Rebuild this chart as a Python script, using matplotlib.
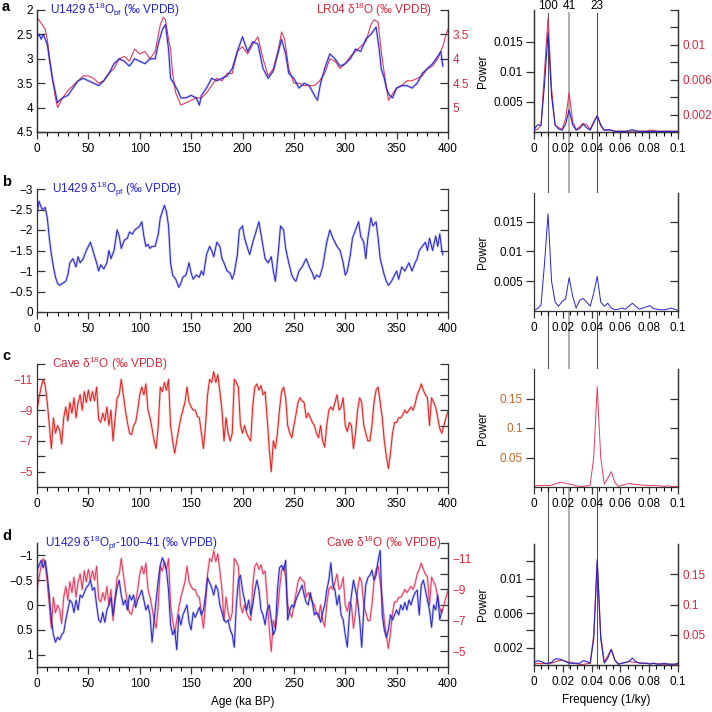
import numpy as np
import matplotlib
matplotlib.use("Agg")
from matplotlib import pyplot as plt
from matplotlib.ticker import MultipleLocator, FixedLocator, FuncFormatter
from matplotlib.lines import Line2D
from matplotlib.transforms import blended_transform_factory

plt.rcParams['font.family'] = ['Liberation Sans', 'DejaVu Sans']
plt.rcParams['mathtext.fontset'] = 'custom'
plt.rcParams['mathtext.rm'] = 'Liberation Sans'
plt.rcParams['mathtext.it'] = 'Liberation Sans:italic'
plt.rcParams['font.size'] = 8.5

# ---- data ----
# panel a: U1429 benthic d18O (left axis)
age_bf = [0, 2, 4, 6, 8, 10, 12, 15, 18, 20,
          22, 25, 30, 35, 40, 45, 50, 55, 60, 65,
          70, 75, 80, 85, 90, 95, 100, 105, 110, 115,
          118, 122, 125, 128, 130, 133, 137, 140, 145, 150,
          155, 158, 160, 165, 170, 175, 180, 185, 190, 195,
          200, 205, 210, 215, 220, 225, 230, 235, 238, 242,
          245, 250, 255, 260, 265, 270, 273, 276, 280, 285,
          290, 295, 300, 305, 310, 315, 320, 325, 330, 333,
          335, 338, 340, 343, 346, 350, 355, 360, 365, 370,
          375, 380, 385, 390, 393, 395]
d18o_bf = [2.55, 2.5, 2.6, 2.5, 2.6, 2.7, 3.0, 3.4, 3.7, 3.9,
           3.85, 3.8, 3.75, 3.6, 3.45, 3.4, 3.45, 3.5, 3.55, 3.45,
           3.3, 3.1, 3.0, 3.05, 3.15, 3.0, 3.05, 3.1, 3.0, 3.0,
           2.7, 2.4, 2.3, 2.8, 3.4, 3.5, 3.65, 3.8, 3.8, 3.75,
           3.8, 3.95, 3.75, 3.6, 3.4, 3.45, 3.4, 3.35, 3.2, 2.85,
           2.55, 2.85, 2.65, 2.7, 3.2, 3.4, 3.25, 2.85, 2.6, 2.9,
           3.3, 3.4, 3.6, 3.5, 3.55, 3.75, 3.85, 3.5, 3.2, 2.9,
           3.0, 3.15, 3.1, 3.0, 2.8, 2.85, 2.6, 2.5, 2.35, 2.8,
           3.2, 3.4, 3.6, 3.75, 3.8, 3.6, 3.55, 3.55, 3.6, 3.5,
           3.3, 3.2, 3.1, 2.95, 2.85, 3.15]

# panel a: LR04 stack (right axis)
age_lr04 = [0, 5, 8, 10, 12, 15, 18, 20, 25, 30,
            35, 40, 45, 50, 55, 60, 65, 70, 75, 80,
            85, 90, 95, 100, 105, 110, 115, 120, 123, 125,
            128, 130, 132, 135, 140, 145, 150, 155, 160, 165,
            170, 175, 180, 185, 190, 195, 200, 205, 210, 215,
            220, 225, 230, 235, 238, 241, 245, 250, 255, 260,
            265, 270, 275, 280, 285, 290, 295, 300, 305, 310,
            315, 320, 325, 328, 332, 335, 338, 342, 345, 350,
            355, 360, 365, 370, 375, 380, 385, 390, 395, 398,
            400]
d18o_lr04 = [3.15, 3.3, 3.4, 3.6, 3.95, 4.4, 4.8, 5.0, 4.8, 4.65,
             4.55, 4.45, 4.35, 4.35, 4.4, 4.5, 4.45, 4.3, 4.2, 4.0,
             3.95, 4.05, 3.8, 3.9, 3.85, 4.0, 3.85, 3.3, 3.15, 3.2,
             3.6, 3.8, 4.3, 4.7, 4.95, 4.9, 4.85, 4.8, 4.8, 4.7,
             4.55, 4.4, 4.45, 4.3, 4.3, 3.85, 3.75, 3.9, 3.7, 3.55,
             4.0, 4.35, 4.2, 3.8, 3.45, 3.6, 4.2, 4.5, 4.5, 4.55,
             4.55, 4.55, 4.45, 4.3, 4.0, 4.05, 4.2, 4.1, 3.95, 3.85,
             3.75, 3.65, 3.3, 3.2, 3.25, 3.85, 4.3, 4.85, 4.75, 4.6,
             4.55, 4.45, 4.45, 4.4, 4.35, 4.2, 4.15, 4.0, 3.75, 3.5,
             3.4]

# panel b: U1429 planktic d18O
age_pf = [0, 2, 5, 8, 10, 12, 14, 16, 18, 20,
          22, 25, 28, 30, 32, 35, 38, 40, 42, 45,
          48, 50, 52, 55, 58, 60, 62, 65, 68, 70,
          72, 75, 78, 80, 82, 85, 88, 90, 93, 95,
          98, 100, 102, 104, 106, 108, 110, 112, 115, 118,
          120, 122, 124, 126, 128, 130, 132, 135, 138, 140,
          142, 145, 148, 150, 152, 155, 158, 160, 162, 165,
          168, 170, 172, 175, 178, 180, 182, 185, 188, 190,
          192, 195, 197, 200, 202, 205, 207, 210, 213, 216,
          218, 220, 222, 225, 228, 230, 232, 235, 237, 240,
          242, 245, 248, 250, 252, 255, 258, 260, 262, 265,
          268, 270, 272, 275, 278, 280, 282, 285, 288, 290,
          292, 295, 298, 300, 302, 305, 307, 310, 313, 315,
          318, 320, 322, 325, 327, 330, 332, 334, 336, 338,
          340, 342, 345, 348, 350, 352, 355, 358, 360, 362,
          365, 368, 370, 372, 375, 378, 380, 382, 385, 388,
          390, 392, 394, 395]
d18o_pf = [-2.4, -2.7, -2.5, -2.55, -2.3, -1.8, -1.4, -1.1, -0.85, -0.7,
           -0.65, -0.7, -0.75, -0.9, -1.2, -1.3, -1.1, -1.35, -1.2, -1.3,
           -1.5, -1.6, -1.7, -1.45, -1.2, -1.0, -1.15, -1.05, -1.2, -1.5,
           -1.3, -1.5, -2.0, -1.85, -1.55, -1.75, -1.8, -1.95, -1.9, -2.0,
           -2.05, -2.1, -2.2, -1.85, -1.6, -1.65, -1.55, -1.6, -1.6, -1.9,
           -2.3, -2.45, -2.6, -2.45, -2.1, -1.2, -0.9, -0.8, -0.6, -0.7,
           -0.85, -0.9, -1.2, -0.95, -0.8, -0.9, -0.85, -1.0, -0.9, -1.4,
           -1.6, -1.5, -1.35, -1.7, -1.6, -1.3, -1.2, -1.0, -0.95, -0.8,
           -0.95, -1.4, -2.0, -2.1, -1.8, -1.55, -1.4, -1.7, -1.95, -2.2,
           -1.9, -1.6, -1.3, -1.2, -1.35, -1.0, -0.75, -1.5, -2.1, -2.0,
           -1.55, -1.2, -0.9, -0.8, -0.75, -1.0, -1.1, -1.2, -1.3, -1.1,
           -0.95, -0.8, -0.9, -0.85, -1.1, -1.4, -1.7, -2.0, -1.8, -1.7,
           -1.6, -1.5, -1.2, -0.9, -1.0, -1.4, -1.8, -2.0, -2.2, -1.85,
           -1.7, -1.3, -1.8, -2.3, -2.1, -2.2, -1.8, -1.3, -1.1, -0.9,
           -0.75, -0.65, -0.75, -0.9, -1.0, -0.8, -1.1, -1.0, -1.1, -1.2,
           -1.0, -1.2, -1.3, -1.5, -1.6, -1.7, -1.5, -1.8, -1.5, -1.85,
           -1.6, -1.9, -1.5, -1.4]

# panels c, d: cave speleothem d18O, 2 ky steps from 0 to 400 ka
age_cave = np.arange(0, 401, 2)
d18o_cave = [-9.0, -9.8, -10.5, -11.0, -10.6, -9.5, -8.0, -6.5, -8.5, -7.5,
             -8.0, -7.7, -6.8, -8.5, -9.2, -8.3, -9.5, -8.8, -9.8, -8.5,
             -9.5, -10.0, -9.0, -10.2, -9.5, -10.3, -9.6, -10.2, -9.6, -10.5,
             -8.4, -8.2, -8.8, -8.3, -9.2, -8.0, -9.0, -7.0, -8.5, -9.8,
             -10.0, -11.0, -10.0, -9.0, -8.2, -7.5, -7.4, -8.0, -8.2, -9.0,
             -10.0, -10.5, -10.0, -10.7, -9.0, -8.5, -7.8, -7.0, -6.5, -8.0,
             -10.5, -10.2, -10.8, -10.3, -11.0, -8.0, -7.0, -6.2, -7.0, -7.8,
             -8.5, -9.0, -9.5, -10.5, -9.5, -9.2, -9.0, -9.0, -8.6, -8.5,
             -7.5, -6.5, -8.0, -10.0, -11.0, -10.8, -11.5, -10.8, -11.3, -10.2,
             -9.0, -7.0, -8.5, -7.5, -7.0, -7.5, -11.0, -10.8, -10.5, -8.0,
             -7.5, -8.0, -7.5, -7.2, -7.0, -9.3, -10.5, -10.7, -10.3, -10.6,
             -10.0, -10.2, -8.5, -6.5, -5.0, -7.0, -6.5, -7.5, -9.0, -10.2,
             -10.5, -9.8, -8.0, -7.5, -7.2, -8.0, -8.7, -9.5, -9.8, -9.6,
             -9.5, -8.5, -8.8, -8.5, -8.2, -8.0, -7.5, -7.2, -8.0, -7.0,
             -6.6, -8.0, -9.0, -9.2, -9.0, -9.5, -10.0, -9.0, -9.2, -9.8,
             -8.0, -7.6, -8.2, -8.0, -6.5, -7.5, -9.0, -9.8, -9.5, -8.0,
             -7.5, -7.0, -7.0, -8.0, -9.5, -10.3, -10.5, -9.5, -8.5, -7.0,
             -6.0, -5.2, -6.2, -7.5, -8.2, -8.2, -8.5, -8.5, -8.7, -9.0,
             -8.8, -9.0, -9.2, -9.0, -9.4, -10.0, -10.3, -10.7, -10.3, -10.0,
             -9.8, -8.0, -9.8, -9.5, -9.2, -8.5, -7.8, -7.5, -8.0, -8.5,
             -8.9]

# panel d: U1429 planktic d18O with 100 and 41 ky bands removed, 2 ky steps
age_filt = np.arange(0, 395, 2)
d18o_filt = [-0.7, -0.8, -0.9, -0.75, -0.9, -0.6, -0.2, 0.3, 0.6, 0.75,
             0.65, 0.7, 0.6, 0.55, 0.3, 0.1, -0.1, -0.05, 0.15, -0.1,
             0.1, -0.2, -0.15, -0.25, -0.35, -0.4, -0.5, -0.3, -0.35, 0.0,
             0.3, 0.35, 0.15, 0.35, 0.1, 0.0, -0.15, 0.2, -0.1, -0.35,
             -0.5, -0.2, 0.0, -0.1, 0.1, -0.2, -0.1, -0.2, 0.05, -0.1,
             -0.2, -0.3, -0.1, 0.1, 0.0, 0.2, 0.75, 0.3, -0.1, -0.5,
             -0.8, -0.95, -0.85, -0.7, -0.3, 0.4, 0.6, 0.5, 0.9, 0.2,
             0.4, 0.2, 0.1, 0.0, 0.35, 0.5, 0.15, 0.25, 0.15, 0.05,
             0.2, 0.1, -0.2, -0.55, -0.45, -0.35, -0.2, -0.4, -0.3, 0.0,
             0.15, 0.3, 0.35, 0.3, 0.5, 0.6, 0.85, 0.0, -0.5, -0.6,
             -0.3, -0.1, 0.1, -0.1, 0.2, 0.0, -0.3, -0.5, -0.3, 0.1,
             0.2, 0.4, 0.1, 0.0, 0.3, 0.6, 0.5, -0.3, -0.75, -0.8,
             -0.7, -0.9, 0.3, 0.1, 0.0, 0.05, -0.1, -0.2, -0.3, -0.4,
             -0.2, -0.05, 0.0, -0.25, -0.05, 0.2, 0.15, 0.2, 0.35, 0.15,
             0.0, -0.3, -0.5, -0.85, -0.4, -0.3, 0.0, -0.2, 0.2, 0.3,
             0.6, 0.85, 0.2, -0.2, -0.5, -0.3, -0.1, 0.3, 0.85, 0.1,
             -0.4, -0.55, -0.6, -0.7, -0.5, -0.6, -0.9, -1.1, 0.2, 0.5,
             0.65, 0.5, 0.2, 0.3, 0.2, 0.1, 0.2, 0.0, 0.1, -0.05,
             0.1, -0.1, 0.0, -0.15, -0.25, -0.3, 0.2, -0.4, -0.5, -0.3,
             -0.1, 0.1, 0.45, 0.0, 0.1, -0.2, 0.3, 0.1]

# power spectra, frequency grid of 1/410 ky steps
freq = np.arange(42) / 410.0
spec_bf = [0.0004, 0.0012, 0.0011, 0.008, 0.0165, 0.006, 0.0012, 0.0005, 0.0003, 0.0013,
           0.0037, 0.0012, 0.0003, 0.0006, 0.0013, 0.0007, 0.0003, 0.0015, 0.0027, 0.0012,
           0.0003, 0.0004, 0.0003, 0.0001, 0.0001, 0.0001, 0.0001, 0.0002, 0.0004, 0.0002,
           0.0001, 0.0001, 0.0001, 0.0001, 0.0001, 0.0001, 0.0001, 0.0001, 0.0001, 0.0001,
           0.0001, 0.0001]
spec_lr04 = [0.0002, 0.0003, 0.0008, 0.007, 0.0131, 0.005, 0.0008, 0.0005, 0.0003, 0.0015,
             0.0045, 0.0012, 0.0003, 0.0006, 0.001, 0.0008, 0.0003, 0.0012, 0.0019, 0.0007,
             0.0002, 0.0002, 0.0002, 0.0001, 0.0001, 0.0001, 0.0001, 0.0001, 0.0001, 0.0001,
             0.0001, 0.0001, 0.0001, 0.0002, 0.0002, 0.0001, 0.0001, 0.0001, 0.0001, 0.0001,
             0.0001, 0.0001]
spec_pf = [0.0001, 0.0004, 0.001, 0.008, 0.0163, 0.005, 0.0015, 0.0008, 0.0016, 0.002,
           0.0056, 0.0025, 0.0005, 0.0018, 0.0021, 0.0015, 0.0008, 0.003, 0.0058, 0.0015,
           0.0008, 0.0013, 0.0005, 0.0002, 0.0003, 0.0005, 0.0003, 0.0008, 0.0013, 0.0008,
           0.0003, 0.0005, 0.0007, 0.0009, 0.0004, 0.0003, 0.0002, 0.0002, 0.0003, 0.0005,
           0.0003, 0.0001]
spec_cave = [0.001, 0.003, 0.002, 0.003, 0.002, 0.003, 0.005, 0.007, 0.008, 0.006,
             0.005, 0.004, 0.002, 0.001, 0.001, 0.002, 0.003, 0.05, 0.17, 0.05,
             0.005, 0.015, 0.026, 0.008, 0.001, 0.003, 0.004, 0.006, 0.005, 0.004,
             0.004, 0.003, 0.003, 0.002, 0.003, 0.002, 0.002, 0.001, 0.002, 0.001,
             0.001, 0.001]
spec_filt = [0.0003, 0.0005, 0.0004, 0.0002, 0.0002, 0.0003, 0.0007, 0.0007, 0.0006, 0.0004,
             0.0002, 0.0002, 0.0002, 0.0002, 0.0005, 0.0004, 0.0002, 0.003, 0.0122, 0.003,
             0.0002, 0.0008, 0.0018, 0.0006, 0.0001, 0.0002, 0.0003, 0.0004, 0.0008, 0.0004,
             0.0002, 0.0002, 0.0002, 0.0001, 0.0002, 0.0001, 0.0001, 0.0002, 0.0001, 0.0001,
             0.0001, 0.0002]

periods = [100, 41, 23]

BLUE = '#2424c8'
PINK = '#e23a5c'
RED = '#e0201e'
AXRED = '#d42a3c'
ORANGE = '#c8682a'
SPINE = '#333333'
FS = 8.5

gfmt = FuncFormatter(lambda v, p: ('%g' % v).replace('-', '\u2212'))


def style(ax):
    ax.spines['top'].set_visible(False)
    for s in ['left', 'right', 'bottom']:
        ax.spines[s].set_color(SPINE)
        ax.spines[s].set_linewidth(0.9)
    ax.tick_params(colors=SPINE, labelcolor='black', width=0.9, labelsize=FS)


def trace(ax, x, y, color, **kw):
    # faint wide copy under a thin line, like the raw/smoothed look of the original
    ax.plot(x, y, color=color, lw=1.8, alpha=0.25, solid_joinstyle='round', **kw)
    ax.plot(x, y, color=color, lw=0.7, **kw)


def ts_axes(rect):
    ax = fig.add_axes(rect)
    style(ax)
    ax.set_xlim(0, 400)
    ax.xaxis.set_major_locator(MultipleLocator(50))
    ax.xaxis.set_minor_locator(MultipleLocator(10))
    ax.tick_params(axis='x', which='major', direction='out', length=5, pad=3)
    ax.tick_params(axis='x', which='minor', direction='out', length=3, width=0.8)
    ax.tick_params(axis='y', which='both', direction='in', length=6, pad=3)
    ax.yaxis.set_major_formatter(gfmt)
    return ax


def spec_axes(rect):
    ax = fig.add_axes(rect)
    style(ax)
    ax.set_xlim(0, 0.1)
    ax.xaxis.set_major_locator(MultipleLocator(0.02))
    ax.xaxis.set_minor_locator(MultipleLocator(0.005))
    ax.xaxis.set_major_formatter(gfmt)
    ax.yaxis.set_major_formatter(gfmt)
    ax.tick_params(axis='x', which='major', direction='out', length=5, pad=3)
    ax.tick_params(axis='x', which='minor', direction='out', length=3, width=0.8)
    ax.tick_params(axis='y', which='both', direction='out', length=6, pad=2)
    ax.set_ylabel('Power', fontsize=FS)
    ax.yaxis.set_label_coords(-0.31, 0.5)
    return ax


def label_ticks(ax, axis_ticks, shown):
    ax.yaxis.set_major_locator(FixedLocator(axis_ticks))
    ax.yaxis.set_major_formatter(FuncFormatter(
        lambda v, p: ('%g' % v).replace('-', '\u2212') if any(abs(v - s) < 1e-9 for s in shown) else ''))


fig = plt.figure(figsize=(7.12, 7.12), dpi=100)

PX = 1 / 712.0
lx, lw = 37 * PX, 411 * PX
sx, sw = 534 * PX, 144 * PX

# ---------- panel a ----------
axa = ts_axes([lx, 1 - 132 * PX, lw, 122 * PX])
trace(axa, age_bf, d18o_bf, BLUE, zorder=3)
axa.set_ylim(4.5, 2)
axa.yaxis.set_major_locator(MultipleLocator(0.5))
axa2 = axa.twinx()
style(axa2)
axa2.plot(age_lr04, d18o_lr04, color=PINK, lw=0.8, zorder=2)
axa2.set_ylim(5.5, 3)
label_ticks(axa2, [3, 3.5, 4, 4.5, 5], [3.5, 4, 4.5, 5])
axa2.tick_params(axis='y', direction='in', length=6, labelcolor=AXRED)
axa.set_zorder(axa2.get_zorder() + 1)
axa.patch.set_visible(False)
axa.text(0.032, 1.0, r'U1429 δ$^{18}$O$_{\mathrm{bf}}$ (‰ VPDB)', color=BLUE,
         transform=axa.transAxes, va='center', ha='left', fontsize=FS)
axa.text(0.962, 1.0, r'LR04 δ$^{18}$O (‰ VPDB)', color=AXRED,
         transform=axa.transAxes, va='center', ha='right', fontsize=FS)

# ---------- panel b ----------
axb = ts_axes([lx, 1 - 312 * PX, lw, 123 * PX])
trace(axb, age_pf, d18o_pf, BLUE)
axb.set_ylim(0, -3)
axb.yaxis.set_major_locator(MultipleLocator(0.5))
axb.tick_params(axis='y', right=True, direction='in', length=6)
axb.text(0.036, 1.0, r'U1429 δ$^{18}$O$_{\mathrm{pf}}$ (‰ VPDB)', color=BLUE,
         transform=axb.transAxes, va='center', ha='left', fontsize=FS)

# ---------- panel c ----------
axc = ts_axes([lx, 1 - 487 * PX, lw, 123 * PX])
trace(axc, age_cave, d18o_cave, RED)
axc.set_ylim(-4, -12)
label_ticks(axc, list(range(-12, -4)), [-11, -9, -7, -5])
axc.tick_params(axis='y', right=True, direction='in', length=6, labelcolor=AXRED)
axc.text(0.036, 1.0, r'Cave δ$^{18}$O (‰ VPDB)', color=AXRED,
         transform=axc.transAxes, va='center', ha='left', fontsize=FS)

# ---------- panel d ----------
axd = ts_axes([lx, 1 - 667 * PX, lw, 124 * PX])
trace(axd, age_filt, d18o_filt, BLUE, zorder=2)
axd.set_ylim(1.25, -1.25)
axd.yaxis.set_major_locator(FixedLocator([-1, -0.5, 0, 0.5, 1]))
axd2 = axd.twinx()
style(axd2)
trace(axd2, age_cave, d18o_cave, PINK)
axd2.set_ylim(-4, -12)
label_ticks(axd2, list(range(-12, -4)), [-11, -9, -7, -5])
axd2.tick_params(axis='y', direction='in', length=6, labelcolor=AXRED)
axd.set_zorder(axd2.get_zorder() + 1)
axd.patch.set_visible(False)
axd.set_xlabel('Age (ka BP)', fontsize=FS, labelpad=4)
axd.text(0.02, 1.0, r'U1429 δ$^{18}$O$_{\mathrm{pf}}$-100–41 (‰ VPDB)', color=BLUE,
         transform=axd.transAxes, va='center', ha='left', fontsize=FS)
axd.text(0.985, 1.0, r'Cave δ$^{18}$O (‰ VPDB)', color=AXRED,
         transform=axd.transAxes, va='center', ha='right', fontsize=FS)

# ---------- spectra ----------
sa = spec_axes([sx, 1 - 132 * PX, sw, 122 * PX])
sa.plot(freq, spec_bf, color=BLUE, lw=0.8, zorder=3)
sa.set_ylim(0, 0.0203)
sa.yaxis.set_major_locator(FixedLocator([0.005, 0.01, 0.015]))
sa2 = sa.twinx()
style(sa2)
sa2.plot(freq, spec_lr04, color=PINK, lw=0.8)
sa2.set_ylim(0, 0.014)
label_ticks(sa2, [0.002, 0.004, 0.006, 0.008, 0.01, 0.012, 0.014], [0.002, 0.006, 0.01])
sa2.tick_params(axis='y', direction='in', length=6, labelcolor=AXRED)
sa.set_zorder(sa2.get_zorder() + 1)
sa.patch.set_visible(False)

sb = spec_axes([sx, 1 - 311 * PX, sw, 118 * PX])
sb.plot(freq, spec_pf, color=BLUE, lw=0.7)
sb.set_ylim(0, 0.0198)
sb.yaxis.set_major_locator(FixedLocator([0.005, 0.01, 0.015]))

sc = spec_axes([sx, 1 - 487 * PX, sw, 118 * PX])
sc.plot(freq, spec_cave, color=PINK, lw=0.7)
sc.set_ylim(0, 0.2)
sc.yaxis.set_major_locator(FixedLocator([0.05, 0.1, 0.15]))
sc.tick_params(axis='y', labelcolor=ORANGE)

sd = spec_axes([sx, 1 - 665 * PX, sw, 121 * PX])
sd.plot(freq, spec_filt, color=BLUE, lw=0.8, zorder=3)
sd.set_ylim(0, 0.014)
label_ticks(sd, [0.002, 0.004, 0.006, 0.008, 0.01, 0.012], [0.002, 0.006, 0.01])
sd2 = sd.twinx()
style(sd2)
sd2.plot(freq, spec_cave, color=PINK, lw=0.8)
sd2.set_ylim(0, 0.2)
sd2.yaxis.set_major_locator(FixedLocator([0.05, 0.1, 0.15]))
sd2.yaxis.set_major_formatter(gfmt)
sd2.tick_params(axis='y', direction='in', length=6, labelcolor=AXRED)
sd.set_zorder(sd2.get_zorder() + 1)
sd.patch.set_visible(False)
sd.set_xlabel('Frequency (1/ky)', fontsize=FS, labelpad=4)

# right-side inward ticks for single spectra panels (b, c)
for ax in (sb, sc):
    r = ax.secondary_yaxis('right')
    r.set_yticks(ax.get_yticks())
    r.tick_params(direction='in', length=6, labelright=False, colors=SPINE, width=0.9)
    r.spines['right'].set_color(SPINE)
    r.spines['right'].set_linewidth(0.9)

# orbital period lines across all spectra
trans = blended_transform_factory(sa.transData, fig.transFigure)
for p in periods:
    col, w = ('#a8a8a8', 1.3) if p == 41 else ('#555555', 0.8)
    fig.add_artist(Line2D([1.0 / p, 1.0 / p], [1 - 13 * PX, 1 - 668 * PX],
                          transform=trans, color=col, lw=w, zorder=0))
    fig.text(1.0 / p, 1 - 6 * PX, str(p), transform=trans, ha='center',
             va='center', fontsize=FS)

# panel letters
for letter, ypx in zip('abcd', [7, 182, 356, 536]):
    fig.text(2 * PX, 1 - ypx * PX, letter, fontsize=10.5, fontweight='bold',
             va='center', ha='left')

fig.savefig('out.png', dpi=100)
